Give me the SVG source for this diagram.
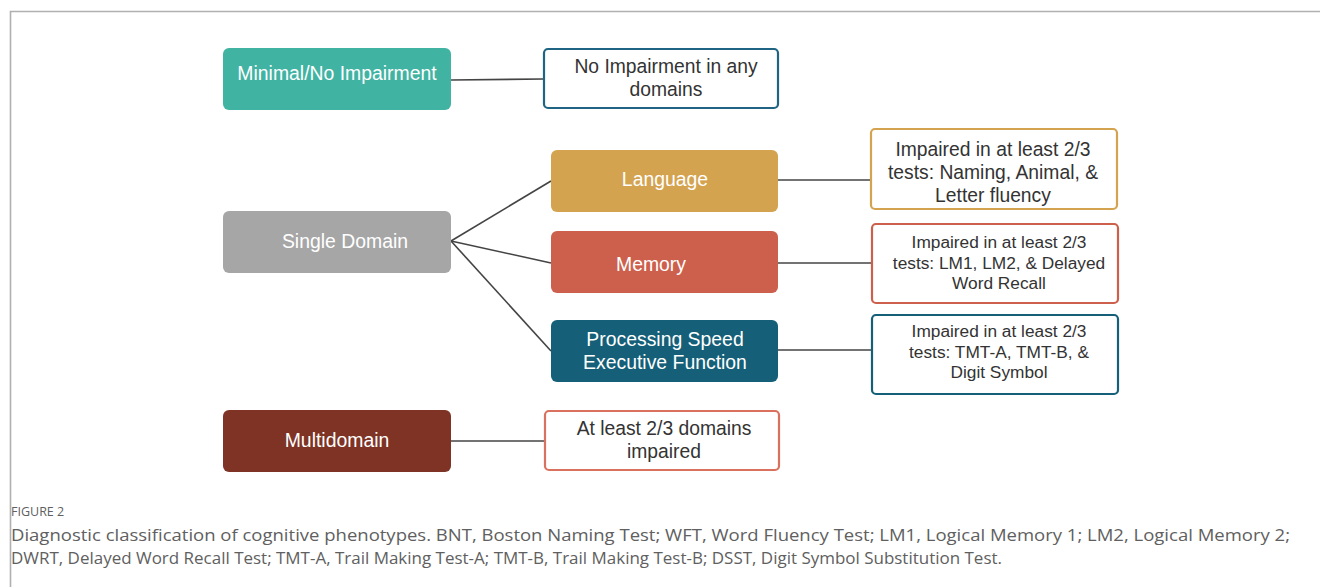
<svg xmlns="http://www.w3.org/2000/svg" width="1320" height="587" viewBox="0 0 1320 587">
<style>
.node rect{stroke:none}
.nt{font-family:"Liberation Sans",Arial,sans-serif;font-size:19.4px;fill:#ffffff;text-anchor:middle}
.desc rect{fill:#ffffff;stroke-width:2.2}
.dt{font-family:"Liberation Sans",Arial,sans-serif;font-size:19.3px;fill:#333333;text-anchor:middle}
.dts{font-family:"Liberation Sans",Arial,sans-serif;font-size:17.3px;fill:#333333;text-anchor:middle}
.conn line{stroke:#444444;stroke-width:1.6}
.cap{font-family:"Open Sans","Liberation Sans",sans-serif;fill:#606060}
</style>
<rect x="0" y="0" width="1320" height="587" fill="#ffffff"/>
<path d="M10.5 587 V11.5 H1320" fill="none" stroke="#b0b0b0" stroke-width="1.6"/>
<g id="connectors" class="conn">
<line x1="451" y1="80" x2="543" y2="79"/>
<line x1="451" y1="241" x2="551" y2="181"/>
<line x1="451" y1="241" x2="551" y2="263"/>
<line x1="451" y1="241" x2="551" y2="351"/>
<line x1="778" y1="180" x2="870" y2="180"/>
<line x1="778" y1="263" x2="871" y2="263"/>
<line x1="778" y1="350" x2="871" y2="350"/>
<line x1="451" y1="441" x2="544" y2="441"/>
</g>
<g id="n-minimal" class="node"><rect x="223" y="48" width="228" height="62" rx="6" fill="#41b3a3"/><text class="nt" x="337" y="80">Minimal/No Impairment</text></g>
<g id="n-single" class="node"><rect x="223" y="211" width="228" height="62" rx="6" fill="#a6a6a6"/><text class="nt" x="345" y="248">Single Domain</text></g>
<g id="n-multi" class="node"><rect x="223" y="410" width="228" height="62" rx="6" fill="#7e3325"/><text class="nt" x="337" y="447">Multidomain</text></g>
<g id="n-language" class="node"><rect x="551" y="150" width="227" height="62" rx="6" fill="#d4a350"/><text class="nt" x="665" y="186">Language</text></g>
<g id="n-memory" class="node"><rect x="551" y="231" width="227" height="62" rx="6" fill="#cd604d"/><text class="nt" x="651" y="271">Memory</text></g>
<g id="n-ps" class="node"><rect x="551" y="320" width="227" height="62" rx="6" fill="#155f78"/><text class="nt" x="665" y="346">Processing Speed</text><text class="nt" x="665" y="369">Executive Function</text></g>
<g id="d-none" class="desc"><rect x="544" y="49" width="234" height="59" rx="4" stroke="#1f6482"/><text class="dt" x="666" y="73">No Impairment in any</text><text class="dt" x="666" y="96">domains</text></g>
<g id="d-language" class="desc"><rect x="871" y="129" width="246" height="80" rx="4" stroke="#d4a350"/><text class="dt" x="993" y="156">Impaired in at least 2/3</text><text class="dt" x="993" y="179">tests: Naming, Animal, &amp;</text><text class="dt" x="993" y="202">Letter fluency</text></g>
<g id="d-memory" class="desc"><rect x="872" y="224" width="246" height="79" rx="4" stroke="#cd604d"/><text class="dts" x="999" y="248">Impaired in at least 2/3</text><text class="dts" x="999" y="269">tests: LM1, LM2, &amp; Delayed</text><text class="dts" x="999" y="289">Word Recall</text></g>
<g id="d-ps" class="desc"><rect x="872" y="315" width="246" height="79" rx="4" stroke="#155f78"/><text class="dts" x="999" y="337">Impaired in at least 2/3</text><text class="dts" x="999" y="358">tests: TMT-A, TMT-B, &amp;</text><text class="dts" x="999" y="378">Digit Symbol</text></g>
<g id="d-multi" class="desc"><rect x="545" y="411" width="234" height="59" rx="4" stroke="#d9715e"/><text class="dt" x="664" y="435">At least 2/3 domains</text><text class="dt" x="664" y="458">impaired</text></g>
<text class="cap" x="11" y="516" font-size="12.5" fill="#666666">FIGURE 2</text>
<text class="cap" x="11" y="541" font-size="16.5" textLength="1279" lengthAdjust="spacingAndGlyphs">Diagnostic classification of cognitive phenotypes. BNT, Boston Naming Test; WFT, Word Fluency Test; LM1, Logical Memory 1; LM2, Logical Memory 2;</text>
<text class="cap" x="11" y="564" font-size="16.5" textLength="991" lengthAdjust="spacingAndGlyphs">DWRT, Delayed Word Recall Test; TMT-A, Trail Making Test-A; TMT-B, Trail Making Test-B; DSST, Digit Symbol Substitution Test.</text>
</svg>
